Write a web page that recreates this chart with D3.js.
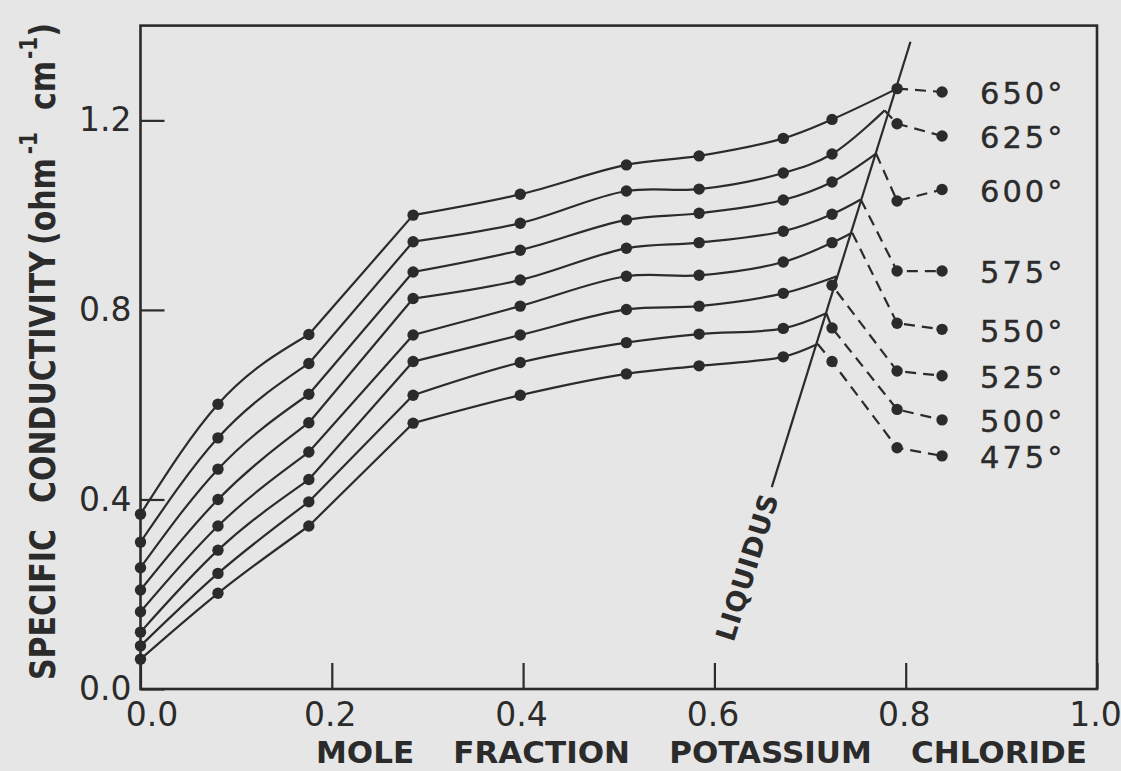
<!DOCTYPE html>
<html>
<head>
<meta charset="utf-8">
<script src="https://cdn.jsdelivr.net/npm/d3@7"></script>
<style>
  body { margin: 0; background: #e6e6e6; }
  svg { display: block; }
  text { font-family: "DejaVu Sans", sans-serif; fill: #2b2b2b; }
</style>
</head>
<body>
<div id="chart"></div>
<script>
// mole fraction KCl of the measured melts
var moleFraction = [0, 0.081, 0.176, 0.285, 0.397, 0.508, 0.584, 0.672, 0.723];
var temperatures = [650, 625, 600, 575, 550, 525, 500, 475];

// specific conductivity (ohm^-1 cm^-1) for each isotherm
var k650 = [0.369, 0.601, 0.748, 1.000, 1.044, 1.106, 1.125, 1.162, 1.202];
var k625 = [0.310, 0.530, 0.687, 0.944, 0.983, 1.051, 1.055, 1.089, 1.129];
var k600 = [0.256, 0.464, 0.622, 0.880, 0.926, 0.990, 1.004, 1.032, 1.070];
var k575 = [0.209, 0.400, 0.562, 0.824, 0.863, 0.930, 0.942, 0.966, 1.002];
var k550 = [0.163, 0.344, 0.500, 0.747, 0.808, 0.871, 0.873, 0.901, 0.942];
var k525 = [0.120, 0.293, 0.442, 0.691, 0.747, 0.801, 0.808, 0.835, 0.852];
var k500 = [0.091, 0.244, 0.395, 0.620, 0.689, 0.731, 0.749, 0.761, 0.762];
var k475 = [0.063, 0.202, 0.344, 0.561, 0.620, 0.665, 0.682, 0.701, 0.691];

// how many of the points above sit on the solid (liquid) branch
var solidCount = [9, 9, 9, 9, 9, 8, 8, 8];

// where each isotherm meets the liquidus
var meetX = [0.791, 0.778, 0.769, 0.753, 0.744, 0.728, 0.717, 0.708];
var meetK = [1.267, 1.221, 1.130, 1.033, 0.963, 0.871, 0.793, 0.728];

// points beyond the liquidus (dashed)
var tailX = [0.791, 0.838];
var tail650 = [1.267, 1.260];
var tail625 = [1.193, 1.167];
var tail600 = [1.030, 1.054];
var tail575 = [0.882, 0.882];
var tail550 = [0.772, 0.759];
var tail525 = [0.671, 0.661];
var tail500 = [0.590, 0.568];
var tail475 = [0.509, 0.492];

// liquidus line end points
var liquidusX = [0.660, 0.805];
var liquidusK = [0.426, 1.366];

var xTicks = [0, 0.2, 0.4, 0.6, 0.8, 1.0];
var yTicks = [0, 0.4, 0.8, 1.2];

var series = [k650, k625, k600, k575, k550, k525, k500, k475];
var tails = [tail650, tail625, tail600, tail575, tail550, tail525, tail500, tail475];

var width = 1121, height = 771;
var ink = "#2b2b2b";

var x = d3.scaleLinear().domain([0, 1]).range([140.5, 1097]);
var y = d3.scaleLinear().domain([0, 1.4]).range([689, 25.6]);

var svg = d3.select("#chart").append("svg")
  .attr("width", width)
  .attr("height", height);

svg.append("rect")
  .attr("width", width)
  .attr("height", height)
  .attr("fill", "#e6e6e6");

// Build the isotherms
var isotherms = temperatures.map(function(t, i) {
  var pts = moleFraction.map(function(m, j) { return [m, series[i][j]]; });
  var solid = pts.slice(0, solidCount[i]);
  var meet = [meetX[i], meetK[i]];
  var tailPts = tailX.map(function(m, j) { return [m, tails[i][j]]; });
  return {
    temp: t,
    points: pts,
    low: solid.slice(0, 3),
    knee: solid.slice(2, 4),
    high: solid.slice(3).concat([meet]),
    dashed: [meet].concat(pts.slice(solidCount[i]), tailPts),
    tail: tailPts
  };
});

var smooth = d3.line()
  .x(function(d) { return x(d[0]); })
  .y(function(d) { return y(d[1]); })
  .curve(d3.curveCatmullRom.alpha(0.5));

var lowCurve = d3.line()
  .x(function(d) { return x(d[0]); })
  .y(function(d) { return y(d[1]); })
  .curve(d3.curveMonotoneX);

var straight = d3.line()
  .x(function(d) { return x(d[0]); })
  .y(function(d) { return y(d[1]); });

var g = svg.append("g");

function solidPath(d) {
  g.append("path")
    .attr("d", d)
    .attr("fill", "none")
    .attr("stroke", ink)
    .attr("stroke-width", 2.2);
}

isotherms.forEach(function(iso) {
  solidPath(lowCurve(iso.low));
  solidPath(straight(iso.knee));
  solidPath(smooth(iso.high));

  g.append("path")
    .attr("d", straight(iso.dashed))
    .attr("fill", "none")
    .attr("stroke", ink)
    .attr("stroke-width", 2.2)
    .attr("stroke-dasharray", "11,7");

  g.selectAll(null)
    .data(iso.points.concat(iso.tail))
    .enter().append("circle")
    .attr("cx", function(d) { return x(d[0]); })
    .attr("cy", function(d) { return y(d[1]); })
    .attr("r", 5.7)
    .attr("fill", ink);

  // temperature label
  g.append("text")
    .attr("x", x(iso.tail[1][0]) + 38)
    .attr("y", y(iso.tail[1][1]))
    .attr("dy", "0.4em")
    .style("font-size", "30.5px")
    .style("letter-spacing", "3px")
    .style("stroke", ink)
    .style("stroke-width", 0.4)
    .text(iso.temp + "\u00b0");
});

// Liquidus
var liq = liquidusX.map(function(m, i) { return [m, liquidusK[i]]; });
g.append("path")
  .attr("d", straight(liq))
  .attr("fill", "none")
  .attr("stroke", ink)
  .attr("stroke-width", 2.2);

var lx0 = x(liq[0][0]), ly0 = y(liq[0][1]);
var lx1 = x(liq[1][0]), ly1 = y(liq[1][1]);
var len = Math.sqrt((lx1 - lx0) * (lx1 - lx0) + (ly1 - ly0) * (ly1 - ly0));
var ux = (lx1 - lx0) / len, uy = (ly1 - ly0) / len;
var angle = Math.atan2(ly1 - ly0, lx1 - lx0) * 180 / Math.PI;
var cx = lx0 - ux * 84, cy = ly0 - uy * 84;

svg.append("text")
  .attr("transform", "translate(" + cx + "," + cy + ") rotate(" + angle + ")")
  .attr("text-anchor", "middle")
  .attr("dy", "0.36em")
  .attr("textLength", 152)
  .attr("lengthAdjust", "spacing")
  .style("font-size", "27px")
  .style("font-weight", "bold")
  .text("LIQUIDUS");

// Axes
var xAxis = d3.axisBottom(x)
  .tickValues(xTicks)
  .tickSize(-26)
  .tickPadding(14)
  .tickFormat(d3.format(".1f"));

var yAxis = d3.axisLeft(y)
  .tickValues(yTicks)
  .tickSize(-24)
  .tickPadding(9)
  .tickFormat(d3.format(".1f"));

var gx = svg.append("g")
  .attr("transform", "translate(0," + y(0) + ")")
  .call(xAxis);

var gy = svg.append("g")
  .attr("transform", "translate(" + x(0) + ",0)")
  .call(yAxis);

[gx, gy].forEach(function(a) {
  a.select(".domain").remove();
  a.selectAll(".tick line").attr("stroke", ink).attr("stroke-width", 2.2);
  a.selectAll(".tick text")
    .attr("fill", ink)
    .style("font-family", "'DejaVu Sans', sans-serif")
    .style("font-size", "33px");
});

gx.selectAll(".tick text")
  .attr("dx", function(d) { return d === 0 ? 11 : -2; });

// Frame
svg.append("rect")
  .attr("x", x(0))
  .attr("y", y(1.4))
  .attr("width", x(1) - x(0))
  .attr("height", y(0) - y(1.4))
  .attr("fill", "none")
  .attr("stroke", ink)
  .attr("stroke-width", 2.6);

// Axis titles
var xTitle = svg.append("text")
  .attr("x", 316)
  .attr("y", 763)
  .style("font-size", "31px")
  .style("font-weight", "bold")
  .text("MOLE FRACTION POTASSIUM CHLORIDE");
var natural = xTitle.node().getComputedTextLength();
xTitle.style("word-spacing", ((771 - natural) / 3) + "px");

var yTitle = svg.append("text")
  .attr("transform", "translate(55,680) rotate(-90) scale(1,1.2)")
  .style("font-size", "30px")
  .style("font-weight", "bold");

yTitle.append("tspan").text("SPECIFIC");
yTitle.append("tspan").attr("dx", 26).text("CONDUCTIVITY");
yTitle.append("tspan").attr("dx", 6).text("(ohm");
yTitle.append("tspan").attr("dy", -15).attr("dx", 4).style("font-size", "20px").text("-1");
yTitle.append("tspan").attr("dy", 15).attr("dx", 22).text("cm");
yTitle.append("tspan").attr("dy", -15).attr("dx", 2).style("font-size", "20px").text("-1");
yTitle.append("tspan").attr("dy", 15).text(")");
</script>
</body>
</html>
